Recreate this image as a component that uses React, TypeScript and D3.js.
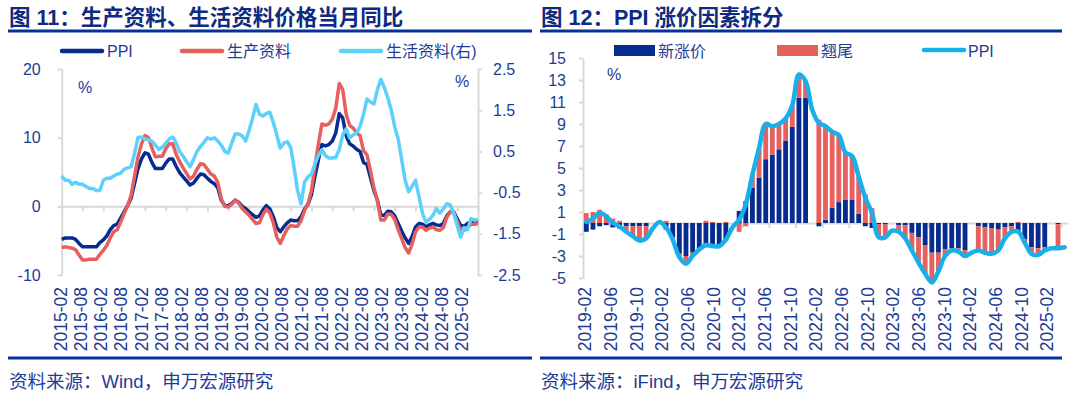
import * as d3 from "d3";
import { useEffect, useRef } from "react";

// fig 11: monthly yoy, 2015-02 .. 2025-02
const ppiYoY = [
  -4.8, -4.6, -4.6, -4.6, -4.8, -5.4, -5.9, -5.9, -5.9, -5.9, -5.9,
  -5.3, -4.9, -4.3, -3.4, -2.8, -2.6, -1.7, -0.8, 0.1, 1.2, 3.3, 5.5,
  6.9, 7.8, 7.6, 6.4, 5.5, 5.5, 5.5, 6.3, 6.9, 6.9, 5.8, 4.9,
  4.3, 3.7, 3.1, 3.4, 4.1, 4.7, 4.6, 4.1, 3.6, 3.3, 2.7, 0.9,
  0.1, 0.1, 0.4, 0.9, 0.6, 0.0, -0.3, -0.8, -1.2, -1.6, -1.4, -0.5,
  0.1, -0.4, -1.5, -3.1, -3.7, -3.0, -2.4, -2.0, -2.1, -2.1, -1.5, -0.4,
  0.3, 1.7, 4.4, 6.8, 9.0, 8.8, 9.0, 9.5, 10.7, 13.5, 12.9, 10.3,
  9.1, 8.8, 8.3, 8.0, 6.4, 6.1, 4.2, 2.3, 0.9, -1.3, -1.3, -0.7,
  -0.8, -1.4, -2.5, -3.6, -4.6, -5.4, -4.4, -3.0, -2.5, -2.6, -3.0, -2.7,
  -2.5, -2.7, -2.8, -2.5, -1.4, -0.8, -0.8, -1.8, -2.8, -2.9, -2.5, -2.3,
  -2.3, -2.2,
];
const prodYoY = [
  -6.0, -5.9, -6.0, -6.1, -6.3, -7.1, -7.8, -7.8, -7.7, -7.7, -7.7,
  -7.0, -6.4, -5.7, -4.6, -3.7, -3.4, -2.3, -1.1, 0.1, 1.6, 4.4, 7.2,
  9.1, 10.3, 10.0, 8.5, 7.2, 7.3, 7.3, 8.4, 9.1, 9.1, 7.6, 6.5,
  5.6, 4.8, 4.0, 4.4, 5.4, 6.2, 6.1, 5.4, 4.7, 4.4, 3.5, 1.1,
  0.0, -0.1, 0.3, 0.9, 0.5, -0.3, -0.8, -1.3, -1.9, -2.5, -2.4, -1.2,
  -0.4, -1.0, -2.4, -4.5, -5.4, -4.3, -3.3, -2.8, -2.9, -2.9, -2.1, -0.6,
  0.4, 2.3, 5.9, 9.1, 12.0, 11.8, 12.0, 12.7, 14.3, 17.9, 17.0, 13.4,
  11.8, 11.4, 10.7, 10.3, 8.1, 7.5, 5.2, 2.7, 0.8, -2.0, -2.0, -1.1,
  -1.2, -1.9, -3.4, -4.7, -6.0, -6.8, -5.5, -3.7, -3.0, -3.0, -3.5, -3.2,
  -3.0, -3.4, -3.5, -3.1, -1.6, -0.8, -0.9, -2.2, -3.5, -3.5, -3.1, -2.6,
  -2.6, -2.5,
];
// right axis
const consYoY = [
  -0.1, -0.2, -0.2, -0.3, -0.25, -0.3, -0.3, -0.35, -0.4, -0.4, -0.45, -0.45,
  -0.2, -0.15, -0.15, -0.1, -0.05, -0.03, 0.07, 0.1, 0.13, 0.45, 0.84, 0.85,
  0.8, 0.78, 0.75, 0.65, 0.55, 0.6, 0.7, 0.8, 0.85, 0.7, 0.5, 0.38,
  0.25, 0.13, 0.3, 0.5, 0.62, 0.72, 0.83, 0.8, 0.83, 0.75, 0.65, 0.5,
  0.46, 0.7, 0.92, 0.92, 0.88, 0.75, 1.0, 1.3, 1.64, 1.4, 1.36, 1.42,
  1.45, 1.2, 0.9, 0.58, 0.7, 0.74, 0.6, 0.1, -0.45, -0.77, -0.24, -0.12,
  -0.05, 0.2, 0.4, 0.54, 0.4, 0.34, 0.34, 0.35, 0.54, 0.9, 1.05, 0.83,
  0.9, 0.95, 1.1, 1.4, 1.77, 1.7, 1.65, 2.0, 2.25, 2.05, 1.8, 1.5,
  1.1, 0.8, 0.3, -0.2, -0.48, -0.35, -0.2, -0.6, -1.0, -1.22, -1.15, -1.05,
  -0.89, -1.0, -0.9, -0.77, -0.8, -1.0, -1.3, -1.58, -1.35, -1.4, -1.13, -1.17,
  -1.15,
];
const leftLabels = [
  "2015-02", "2015-08", "2016-02", "2016-08", "2017-02", "2017-08", "2018-02",
  "2018-08", "2019-02", "2019-08", "2020-02", "2020-08", "2021-02", "2021-08",
  "2022-02", "2022-08", "2023-02", "2023-08", "2024-02", "2024-08", "2025-02",
];

// fig 12: 2019-02 .. 2025-02, december bars not reported
const ppi12 = [
  0.1, 0.4, 0.9, 0.6, 0.0, -0.3, -0.8, -1.2, -1.6, -1.4, -0.5,
  0.1, -0.4, -1.5, -3.1, -3.7, -3.0, -2.4, -2.0, -2.1, -2.1, -1.5, -0.4,
  0.3, 1.7, 4.4, 6.8, 9.0, 8.8, 9.0, 9.5, 10.7, 13.5, 12.9, 10.3,
  9.1, 8.8, 8.3, 8.0, 6.4, 6.1, 4.2, 2.3, 0.9, -1.3, -1.3, -0.7,
  -0.8, -1.4, -2.5, -3.6, -4.6, -5.4, -4.4, -3.0, -2.5, -2.6, -3.0, -2.7,
  -2.5, -2.7, -2.8, -2.5, -1.4, -0.8, -0.8, -1.8, -2.8, -2.9, -2.5, -2.3,
  -2.3, -2.2,
];
const newFactor = [
  -0.8, -0.6, -0.3, -0.2, -0.4, -0.5, -0.3, -0.3, -0.3, -0.3, null,
  0.0, -0.6, -1.3, -2.8, -3.0, -2.7, -2.3, -2.2, -2.2, -2.1, -1.6, null,
  1.1, 2.0, 3.2, 4.1, 5.8, 6.2, 6.7, 7.5, 8.75, 11.4, 11.4, null,
  -0.3, 0.3, 1.4, 1.9, 2.1, 2.1, 0.85, -0.3, -0.45, -0.1, -0.1, null,
  -0.2, -0.2, -0.9, -1.3, -2.0, -2.7, -2.7, -2.4, -2.3, -2.3, -2.5, null,
  -0.3, -0.4, -0.5, -0.6, -0.4, -0.3, -0.9, -1.5, -2.2, -2.3, -2.2, null,
  -0.1, null,
];
const carryOver = [
  0.9, 1.0, 1.2, 0.8, 0.4, 0.2, -0.5, -0.9, -1.3, -1.1, null,
  0.1, 0.2, -0.2, -0.3, -0.7, -0.3, -0.1, 0.2, 0.1, 0.0, 0.1, null,
  -0.8, -0.3, 1.2, 2.7, 3.2, 2.6, 2.3, 2.0, 1.95, 2.1, 1.5, null,
  9.4, 8.5, 6.9, 6.1, 4.3, 4.0, 3.35, 2.6, 1.35, -1.2, -1.2, null,
  -0.6, -1.2, -1.6, -2.3, -2.6, -2.7, -1.7, -0.6, -0.2, -0.3, -0.5, null,
  -2.2, -2.3, -2.3, -1.9, -1.0, -0.5, 0.1, -0.3, -0.6, -0.6, -0.3, null,
  -2.2, null,
];
const rightLabels = [
  "2019-02", "2019-06", "2019-10", "2020-02", "2020-06", "2020-10", "2021-02",
  "2021-06", "2021-10", "2022-02", "2022-06", "2022-10", "2023-02", "2023-06",
  "2023-10", "2024-02", "2024-06", "2024-10", "2025-02",
];

const NAVY = "#062c8f";
const RED = "#e6605e";
const CYAN = "#5dd0fb";
const SKY = "#19afea";
const TXT = "#1d3c95";
const GRID = "#d9d9d9";
const FONT = "'Liberation Sans', 'Noto Sans CJK SC', Arial, sans-serif";

export default function App() {
  const ref = useRef(null);

  useEffect(() => {
    draw();
  });

  function styleAxis(g: any, fontSize = 16) {
    g.select(".domain").attr("stroke", GRID).attr("stroke-width", 2);
    g.selectAll(".tick line").attr("stroke", GRID).attr("stroke-width", 2);
    g.selectAll(".tick text")
      .attr("fill", TXT)
      .style("font-family", FONT)
      .style("font-size", fontSize + "px");
  }

  function header(svg: any, x0: number, x1: number, title: string, source: string) {
    svg
      .append("text")
      .attr("x", x0 + 1)
      .attr("y", 25)
      .attr("fill", "#0d2b80")
      .style("font-family", FONT)
      .style("font-size", "21.5px")
      .style("font-weight", 700)
      .text(title);
    svg.append("line").attr("x1", x0).attr("x2", x1).attr("y1", 31).attr("y2", 31)
      .attr("stroke", "#06309a").attr("stroke-width", 3);
    svg.append("line").attr("x1", x0).attr("x2", x1).attr("y1", 358).attr("y2", 358)
      .attr("stroke", "#06309a").attr("stroke-width", 3);
    svg
      .append("text")
      .attr("x", x0 + 1)
      .attr("y", 388)
      .attr("fill", TXT)
      .style("font-family", FONT)
      .style("font-size", "18.5px")
      .text(source);
  }

  function xLabels(svg: any, labels: string[], range: [number, number]) {
    const lx = d3.scalePoint().domain(labels).range(range);
    svg
      .append("g")
      .selectAll("text")
      .data(labels)
      .enter()
      .append("text")
      .attr("transform", (d: string) => `translate(${lx(d)},287) rotate(-90)`)
      .attr("dy", "0.36em")
      .style("text-anchor", "end")
      .style("font-family", FONT)
      .style("font-size", "17.5px")
      .attr("fill", TXT)
      .text((d: string) => d);
  }

  function legendText(svg: any, x: number, label: string) {
    svg.append("text").attr("x", x).attr("y", 57).attr("fill", TXT)
      .style("font-family", FONT).style("font-size", "16px").text(label);
  }

  function draw() {
    const svg = d3.select(ref.current);
    svg.selectAll("*").remove();
    svg.append("rect").attr("width", 1080).attr("height", 394).attr("fill", "#fff");

    // ---------- fig 11 ----------
    header(svg, 8, 532, "图 11：生产资料、生活资料价格当月同比", "资料来源：Wind，申万宏源研究");

    const x1 = d3.scaleLinear().domain([0, ppiYoY.length - 1]).range([61.7, 478]);
    const y1 = d3.scaleLinear().domain([-10, 20]).range([275, 69]);
    const y1r = d3.scaleLinear().domain([-2.5, 2.5]).range([275, 69]);

    svg.append("g").attr("transform", "translate(61.7,0)")
      .call(d3.axisLeft(y1).tickValues([-10, 0, 10, 20]).tickSize(4).tickSizeOuter(0)
        .tickPadding(17).tickFormat((d: any) => String(d)))
      .call((g: any) => styleAxis(g));
    svg.append("g").attr("transform", "translate(478,0)")
      .call(d3.axisRight(y1r).tickValues([-2.5, -1.5, -0.5, 0.5, 1.5, 2.5]).tickSize(4)
        .tickSizeOuter(0).tickPadding(11).tickFormat((d: any) => String(d)))
      .call((g: any) => styleAxis(g));
    svg.append("g").attr("transform", `translate(0,${y1(0)})`)
      .call(d3.axisBottom(x1).tickValues(d3.range(0, 121, 6)).tickSize(5).tickSizeOuter(0)
        .tickFormat(() => ""))
      .call((g: any) => styleAxis(g));
    xLabels(svg, leftLabels, [61, 462]);

    svg.append("text").attr("x", 78).attr("y", 93).attr("fill", TXT)
      .style("font-family", FONT).style("font-size", "16px").text("%");
    svg.append("text").attr("x", 455).attr("y", 87).attr("fill", TXT)
      .style("font-family", FONT).style("font-size", "16px").text("%");

    const lineL = d3.line<number>().x((d, i) => x1(i)).y((d) => y1(d));
    const lineR = d3.line<number>().x((d, i) => x1(i)).y((d) => y1r(d));
    svg.append("path").datum(ppiYoY).attr("d", lineL).attr("fill", "none")
      .attr("stroke", NAVY).attr("stroke-width", 3.5).attr("stroke-linejoin", "round");
    svg.append("path").datum(prodYoY).attr("d", lineL).attr("fill", "none")
      .attr("stroke", RED).attr("stroke-width", 3.5).attr("stroke-linejoin", "round");
    svg.append("path").datum(consYoY).attr("d", lineR).attr("fill", "none")
      .attr("stroke", CYAN).attr("stroke-width", 3.5).attr("stroke-linejoin", "round");

    // legend
    const leg1 = [
      { x: 62, c: NAVY, t: "PPI", tx: 107 },
      { x: 182, c: RED, t: "生产资料", tx: 227 },
      { x: 341, c: CYAN, t: "生活资料(右)", tx: 386 },
    ];
    leg1.forEach((l) => {
      svg.append("line").attr("x1", l.x).attr("x2", l.x + 40).attr("y1", 51).attr("y2", 51)
        .attr("stroke", l.c).attr("stroke-width", 4.5).attr("stroke-linecap", "round");
      legendText(svg, l.tx, l.t);
    });

    // ---------- fig 12 ----------
    header(svg, 540, 1062, "图 12：PPI 涨价因素拆分", "资料来源：iFind，申万宏源研究");

    const x2 = d3.scaleLinear().domain([0, ppi12.length]).range([583, 1068]);
    const y2 = d3.scaleLinear().domain([-5, 15]).range([278, 58]);

    svg.append("g").attr("transform", "translate(583,0)")
      .call(d3.axisLeft(y2).tickValues(d3.range(-5, 16, 2)).tickSize(4).tickSizeOuter(0)
        .tickPadding(13).tickFormat((d: any) => String(d)))
      .call((g: any) => styleAxis(g));
    svg.append("g").attr("transform", `translate(0,${y2(0)})`)
      .call(d3.axisBottom(x2).tickValues(d3.range(0, 73, 4)).tickSize(5).tickSizeOuter(0)
        .tickFormat(() => ""))
      .call((g: any) => styleAxis(g));
    xLabels(svg, rightLabels, [585, 1047]);

    svg.append("text").attr("x", 607).attr("y", 80).attr("fill", TXT)
      .style("font-family", FONT).style("font-size", "16px").text("%");

    const rows = ppi12.map((_, i) => ({
      i,
      has: newFactor[i] != null,
      newF: newFactor[i] ?? 0,
      carry: carryOver[i] ?? 0,
    }));
    const stacked = d3.stack<any>().keys(["newF", "carry"]).offset(d3.stackOffsetDiverging)(rows);
    const bw = x2(1) - x2(0);
    const colors = [NAVY, RED];
    stacked.forEach((s, k) => {
      svg.append("g")
        .selectAll("rect")
        .data(s.filter((d: any) => d.data.has))
        .enter()
        .append("rect")
        .attr("x", (d: any) => x2(d.data.i) + 0.9)
        .attr("width", bw - 1.8)
        .attr("y", (d: any) => y2(Math.max(d[0], d[1])))
        .attr("height", (d: any) => Math.abs(y2(d[0]) - y2(d[1])))
        .attr("fill", colors[k]);
    });

    svg.append("path").datum(ppi12)
      .attr("d", d3.line<number>().x((d, i) => x2(i + 0.5)).y((d) => y2(d)).curve(d3.curveCatmullRom))
      .attr("fill", "none").attr("stroke", SKY).attr("stroke-width", 4.5)
      .attr("stroke-linejoin", "round").attr("stroke-linecap", "round");

    // legend
    svg.append("rect").attr("x", 614).attr("y", 45).attr("width", 41).attr("height", 11).attr("fill", NAVY);
    legendText(svg, 658, "新涨价");
    svg.append("rect").attr("x", 777).attr("y", 45).attr("width", 41).attr("height", 11).attr("fill", RED);
    legendText(svg, 821, "翘尾");
    svg.append("line").attr("x1", 924).attr("x2", 964).attr("y1", 50).attr("y2", 50)
      .attr("stroke", SKY).attr("stroke-width", 4.5).attr("stroke-linecap", "round");
    legendText(svg, 968, "PPI");
  }

  return (
    <div style={{ position: "absolute", left: 0, top: 0 }}>
      <svg width={1080} height={394} ref={ref}></svg>
    </div>
  );
}
